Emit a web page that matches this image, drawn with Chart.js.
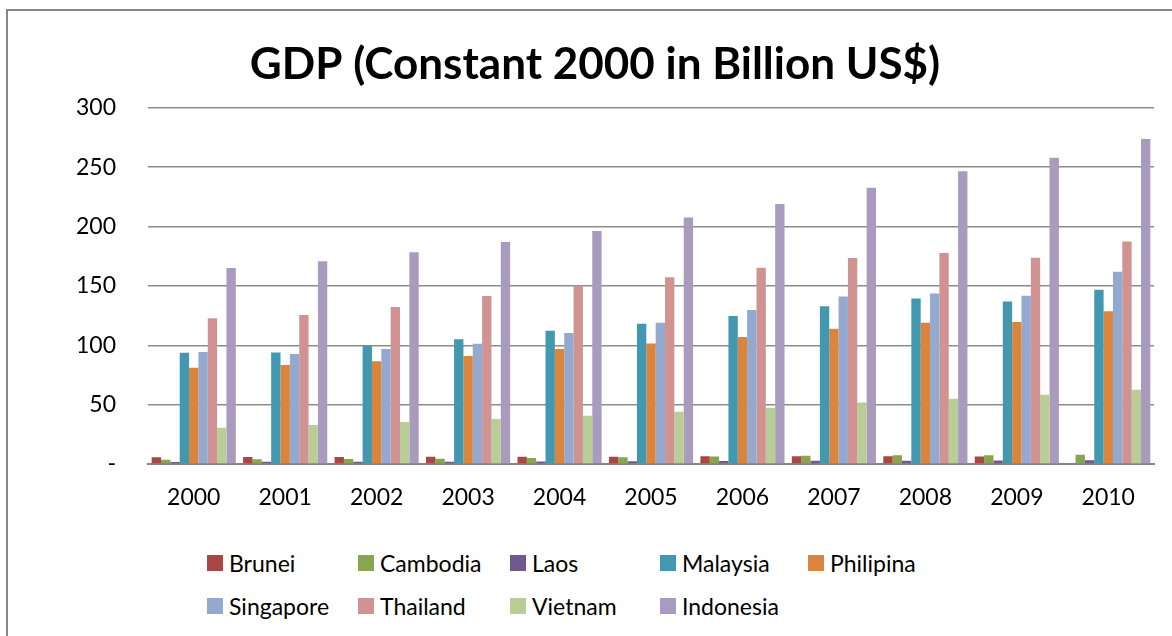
<!DOCTYPE html>
<html>
<head>
<meta charset="utf-8">
<script src="https://cdn.jsdelivr.net/npm/chart.js@4"></script>
<style>
	html, body { margin: 0; padding: 0; background: #fff; overflow: hidden; }
	#frame { position: absolute; left: 6px; top: 9px; width: 1300px; height: 800px; border-left: 2px solid #878787; border-top: 2px solid #878787; }
	#wrap { position: absolute; left: 0; top: 0; width: 1172px; height: 540px; }
	#legend { position: absolute; left: 0; top: 0; font-family: Lato, sans-serif; font-size: 23px; color: #000; }
	.item { position: absolute; height: 24px; line-height: 24px; white-space: nowrap; }
	.item span.box { position: absolute; left: 0; top: 4px; width: 16px; height: 16px; }
	.item span.txt { position: absolute; left: 22px; top: 0; }
</style>
</head>
<body>
<div id="frame"></div>
<div id="wrap"><canvas id="gdp" width="1172" height="540"></canvas></div>
<div id="legend"></div>
<script>
var years = ["2000", "2001", "2002", "2003", "2004", "2005", "2006", "2007", "2008", "2009", "2010"]

var brunei = [5.7, 5.8, 6.0, 6.2, 6.2, 6.2, 6.5, 6.6, 6.5, 6.3, null]
var cambodia = [3.6, 3.9, 4.2, 4.5, 5.0, 5.7, 6.3, 6.9, 7.3, 7.3, 7.7]
var laos = [1.7, 1.8, 1.9, 2.0, 2.2, 2.3, 2.5, 2.7, 2.8, 3.0, 3.2]
var malaysia = [93.8, 93.9, 99.5, 105.0, 112.3, 118.1, 124.7, 132.8, 139.4, 136.8, 146.7]
var philipina = [81.0, 83.4, 86.6, 91.0, 96.9, 101.5, 106.9, 114.0, 118.9, 119.6, 128.7]
var singapore = [94.3, 92.6, 96.8, 101.2, 110.3, 118.9, 129.6, 141.0, 143.5, 141.8, 162.0]
var thailand = [122.7, 125.4, 132.2, 141.4, 150.1, 157.2, 165.2, 173.4, 177.7, 173.8, 187.3]
var vietnam = [30.6, 32.8, 35.4, 38.0, 40.7, 44.0, 47.4, 51.7, 55.0, 58.4, 62.5]
var indonesia = [165.0, 170.7, 178.3, 187.0, 196.3, 207.6, 219.0, 232.6, 246.5, 258.0, 273.8]

var yTicks = [0, 50, 100, 150, 200, 250, 300]

var series = [
	["Brunei", brunei, "#AA4643"],
	["Cambodia", cambodia, "#89A54E"],
	["Laos", laos, "#71588F"],
	["Malaysia", malaysia, "#4198AF"],
	["Philipina", philipina, "#DB843D"],
	["Singapore", singapore, "#93A9CF"],
	["Thailand", thailand, "#D19392"],
	["Vietnam", vietnam, "#B9CD96"],
	["Indonesia", indonesia, "#A99BBD"]
]

var datasets = []
for (var s of series) {
	datasets.push({
		label: s[0],
		data: s[1],
		backgroundColor: s[2],
		borderWidth: 0,
		categoryPercentage: 0.92,
		barPercentage: 1.0
	})
}

var ctx = document.getElementById("gdp").getContext("2d")
var gdpChart = new Chart(ctx, {
	type: "bar",
	data: { labels: years, datasets: datasets },
	options: {
		responsive: false,
		animation: false,
		layout: { padding: { left: 36, right: 18, top: 0, bottom: 0 } },
		plugins: {
			legend: { display: false },
			tooltip: { enabled: false },
			title: {
				display: true,
				text: "GDP (Constant 2000 in Billion US$)",
				color: "#000",
				font: { family: "Lato", size: 44, weight: "bold", lineHeight: 1.2 },
				padding: { top: 38, bottom: 17 }
			}
		},
		scales: {
			x: {
				grid: { display: false, drawTicks: false },
				border: { display: true, color: "#868686", width: 2 },
				ticks: { color: "#000", font: { family: "Lato", size: 23 }, padding: 20, maxRotation: 0 },
				afterFit: function (scale) { scale.height = 76 }
			},
			y: {
				min: 0,
				max: 300,
				afterBuildTicks: function (scale) {
					scale.ticks = yTicks.map(function (v) { return { value: v } })
				},
				grid: { color: "#8c8c8c", lineWidth: 1.5, drawTicks: false },
				border: { display: false },
				ticks: {
					color: "#000",
					font: { family: "Lato", size: 23 },
					padding: 32,
					callback: function (v) { return v === 0 ? "-" : v }
				},
				// 36 padding + 112 = plot starts at x 148
				afterFit: function (scale) { scale.width = 112 }
			}
		}
	}
})

// legend laid out in rows/columns like the excel one (philipina ends row 1)
var colX = [207, 358, 510, 660, 808]
var rowY = [551, 594]
var place = {
	"Brunei": [0, 0], "Cambodia": [0, 1], "Laos": [0, 2], "Malaysia": [0, 3], "Philipina": [0, 4],
	"Singapore": [1, 0], "Thailand": [1, 1], "Vietnam": [1, 2], "Indonesia": [1, 3]
}
var legend = document.getElementById("legend")
gdpChart.data.datasets.forEach(function (ds) {
	var p = place[ds.label]
	var el = document.createElement("div")
	el.className = "item"
	el.style.left = colX[p[1]] + "px"
	el.style.top = rowY[p[0]] + "px"
	el.innerHTML = '<span class="box" style="background:' + ds.backgroundColor + '"></span><span class="txt">' + ds.label + '</span>'
	legend.appendChild(el)
})
</script>
</body>
</html>
